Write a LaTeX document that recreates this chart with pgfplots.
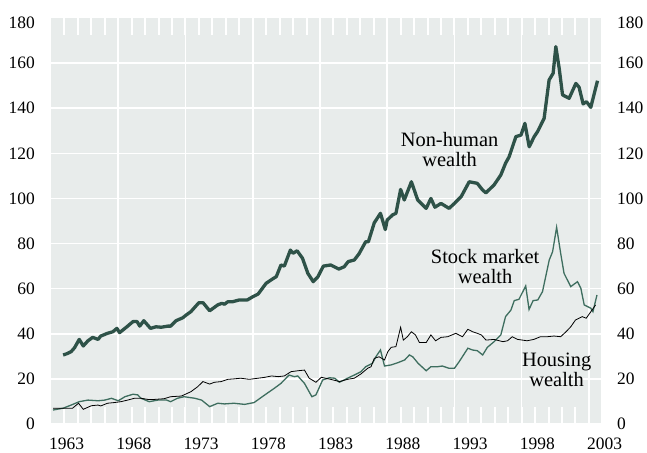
\documentclass[border=0pt]{standalone}
\usepackage{fontspec}
\setmainfont{Liberation Serif}
\usepackage{pgfplots}
\pgfplotsset{compat=1.18}
\definecolor{bggray}{HTML}{E8ECEB}
\definecolor{nhw}{HTML}{2E5248}
\definecolor{smw}{HTML}{3E6E5F}
\begin{document}
\begin{tikzpicture}
\useasboundingbox (-51bp,-29bp) rectangle (596bp,424bp);
\begin{axis}[
  scale only axis, width=550bp, height=406bp,
  xmin=1963, xmax=2003.9, ymin=0, ymax=180,
  axis line style={draw=none},
  axis background/.style={fill=bggray},
  xtick={1968,1973,...,2003},
  extra x ticks={1963}, extra x tick style={grid=none},
  minor xtick={1964,1965,...,2003},
  ytick={0,20,...,160},
  extra y ticks={180}, extra y tick style={grid=none, yticklabel style={yshift=-5bp}},
  grid=major, major grid style={white, line width=1.6bp},
  major tick length=0pt, minor tick length=17bp,
  tick align=inside, xtick pos=both, ytick pos=left,
  minor tick style={white, line width=2bp},
  tick label style={font=\fontsize{17.5}{20}\selectfont, /pgf/number format/assume math mode=true},
  xticklabel style={anchor=north west, inner sep=0pt, xshift=-2bp, yshift=-14bp, /pgf/number format/1000 sep={}},
  yticklabel style={anchor=east, inner sep=0pt, xshift=-16bp},
  clip=false,
]
\addplot[smw, line width=1.3bp] coordinates {
(1963.15,6.2) (1963.9,7.0) (1964.5,8.4) (1965.1,9.9) (1965.75,10.6) (1966.5,10.3) (1967.0,10.6) (1967.5,11.4)
(1968.0,10.3) (1968.5,12.1) (1969.1,13.2) (1969.45,12.9) (1969.7,11.4) (1970.3,9.9) (1970.95,10.6) (1971.6,10.6)
(1971.9,9.9) (1972.4,11.4) (1972.9,12.1) (1973.7,11.4) (1974.2,10.6) (1974.8,7.7) (1975.4,9.2) (1975.9,8.9)
(1976.6,9.2) (1977.4,8.7) (1978.1,9.5) (1978.9,12.9) (1979.6,15.8) (1980.1,18.0) (1980.7,21.7) (1981.1,21.0)
(1981.35,21.3) (1981.85,18.0) (1982.4,12.1) (1982.7,12.9) (1983.2,19.5) (1983.7,20.5) (1984.1,20.3) (1984.45,18.5)
(1985.05,20.3) (1985.55,21.7) (1986.05,23.2) (1986.4,25.4) (1986.9,26.9) (1987.2,30.2) (1987.5,32.8) (1987.8,25.7)
(1988.3,26.2) (1988.8,27.2) (1989.3,28.4) (1989.65,30.6) (1989.9,29.8) (1990.3,26.9) (1990.9,23.6) (1991.25,25.4)
(1991.75,25.4) (1992.1,25.7) (1992.6,24.7) (1993.0,24.7) (1993.35,27.6) (1994.0,33.6) (1994.35,32.8) (1994.7,32.5)
(1995.1,30.6) (1995.45,34.0) (1995.95,36.5) (1996.45,39.5) (1996.8,47.6) (1997.2,50.5) (1997.45,54.7) (1997.8,55.3)
(1998.3,61.2) (1998.55,50.8) (1998.85,54.7) (1999.2,55.0) (1999.55,58.7) (2000.05,72.7) (2000.3,76.4) (2000.6,87.2)
(2000.9,75.7) (2001.15,66.8) (2001.65,60.9) (2002.15,63.1) (2002.4,60.2) (2002.65,52.8) (2003.15,51.3) (2003.3,49.8)
(2003.6,57.2)
};
\addplot[black, line width=0.8bp] coordinates {
(1963.15,7.0) (1963.9,7.0) (1964.6,7.0) (1965.05,9.2) (1965.4,6.5) (1966.0,8.1) (1966.5,8.4) (1966.7,8.0)
(1967.2,9.2) (1967.7,9.5) (1968.2,9.9) (1968.7,10.6) (1969.2,11.4) (1969.7,11.4) (1970.2,10.9) (1970.7,10.9)
(1971.4,11.2) (1971.9,12.1) (1972.7,12.4) (1973.4,14.3) (1973.9,16.5) (1974.3,18.8) (1974.8,17.7) (1975.15,18.5)
(1975.65,18.8) (1976.15,19.8) (1976.6,20.0) (1977.1,20.3) (1977.75,19.8) (1978.4,20.3) (1978.9,20.7) (1979.4,21.3)
(1979.9,21.0) (1980.35,21.3) (1980.85,23.2) (1981.35,23.6) (1981.85,23.9) (1982.2,20.3) (1982.7,18.5) (1983.1,20.7)
(1983.8,19.8) (1984.45,18.8) (1985.05,19.8) (1985.55,20.3) (1986.05,22.2) (1986.55,24.7) (1986.8,25.4) (1987.04,29.1)
(1987.4,29.8) (1987.8,28.4) (1988.05,32.1) (1988.3,34.0) (1988.65,34.3) (1989.0,42.9) (1989.2,37.2) (1989.5,38.7)
(1989.8,40.9) (1990.1,39.5) (1990.4,36.1) (1990.9,36.1) (1991.25,39.5) (1991.6,36.9) (1992.0,38.4) (1992.5,38.7)
(1993.1,40.2) (1993.6,38.7) (1994.0,42.0) (1994.35,40.9) (1994.7,40.2) (1995.0,39.5) (1995.35,37.2) (1995.95,37.5)
(1996.6,36.5) (1996.95,36.9) (1997.3,38.7) (1997.7,37.5) (1998.4,36.9) (1998.9,37.5) (1999.4,38.7) (1999.9,38.7)
(2000.4,39.0) (2000.9,38.7) (2001.3,40.9) (2001.65,43.1) (2002.0,46.1) (2002.5,47.6) (2002.8,46.9) (2003.1,49.4)
(2003.5,52.8)
};
\addplot[nhw, line width=3.3bp, line join=round] coordinates {
(1963.9,30.6) (1964.2,31.2) (1964.5,32.1) (1964.75,33.8) (1965.1,37.5) (1965.4,34.6) (1965.75,36.9) (1966.1,38.4)
(1966.5,37.5) (1966.7,39.0) (1967.2,40.2) (1967.6,40.9) (1967.9,42.4) (1968.1,40.5) (1968.6,42.9) (1969.1,45.4)
(1969.4,45.4) (1969.6,43.4) (1969.9,45.8) (1970.4,42.4) (1970.8,43.1) (1971.2,42.9) (1971.7,43.4) (1971.9,43.4)
(1972.3,45.8) (1972.8,47.1) (1973.05,48.3) (1973.4,49.8) (1974.0,53.8) (1974.3,53.8) (1974.8,50.2) (1975.4,52.8)
(1975.7,53.5) (1975.9,53.1) (1976.15,54.2) (1976.5,54.2) (1977.0,55.0) (1977.6,55.0) (1978.0,56.4) (1978.4,57.6)
(1979.0,62.4) (1979.55,64.6) (1979.75,65.3) (1980.1,70.5) (1980.35,70.0) (1980.8,77.1) (1981.0,75.7) (1981.3,76.8)
(1981.7,73.5) (1982.1,66.8) (1982.5,63.1) (1982.85,65.3) (1983.25,70.0) (1983.8,70.5) (1984.4,68.7) (1984.8,69.7)
(1985.1,72.0) (1985.55,72.7) (1985.9,75.4) (1986.4,80.8) (1986.6,80.8) (1987.04,89.2) (1987.5,93.4) (1987.86,86.2)
(1988.0,90.4) (1988.4,92.7) (1988.65,93.4) (1989.0,104.0) (1989.27,99.3) (1989.8,107.4) (1990.27,99.3) (1990.9,95.6)
(1991.25,100.0) (1991.55,96.1) (1992.0,97.8) (1992.6,95.6) (1993.0,97.8) (1993.5,100.8) (1993.7,103.0) (1994.1,107.4)
(1994.7,106.7) (1995.1,103.7) (1995.34,102.5) (1995.95,106.0) (1996.45,110.4) (1996.8,115.6) (1997.07,118.5) (1997.57,127.4)
(1997.95,128.1) (1998.24,133.3) (1998.56,122.9) (1998.93,127.4) (1999.18,129.6) (1999.67,135.5) (2000.04,152.5) (2000.34,155.5)
(2000.54,167.3) (2000.79,157.7) (2001.04,145.9) (2001.53,144.4) (2002.03,151.0) (2002.27,149.3) (2002.57,141.9) (2002.82,142.9)
(2003.14,140.4) (2003.64,152.2)
};
\node[font=\fontsize{20.5}{20}\selectfont, align=center] at (axis cs:1992.64,121.5) {Non-human\\wealth};
\node[font=\fontsize{20.5}{20}\selectfont, align=center] at (axis cs:1995.28,69.7) {Stock market\\wealth};
\node[font=\fontsize{20.5}{20}\selectfont, align=center] at (axis cs:2000.6,23.9) {Housing\\wealth};
\end{axis}
\begin{axis}[
  scale only axis, width=550bp, height=406bp,
  xmin=1963, xmax=2003.9, ymin=0, ymax=180,
  hide x axis, axis line style={draw=none},
  ytick={0,20,...,160},
  extra y ticks={180}, extra y tick style={yticklabel style={yshift=-5bp}},
  major tick length=0pt, ytick pos=right, yticklabel pos=right,
  tick label style={font=\fontsize{17.5}{20}\selectfont, /pgf/number format/assume math mode=true},
  yticklabel style={anchor=west, inner sep=0pt, xshift=16bp},
]
\end{axis}
\end{tikzpicture}
\end{document}
